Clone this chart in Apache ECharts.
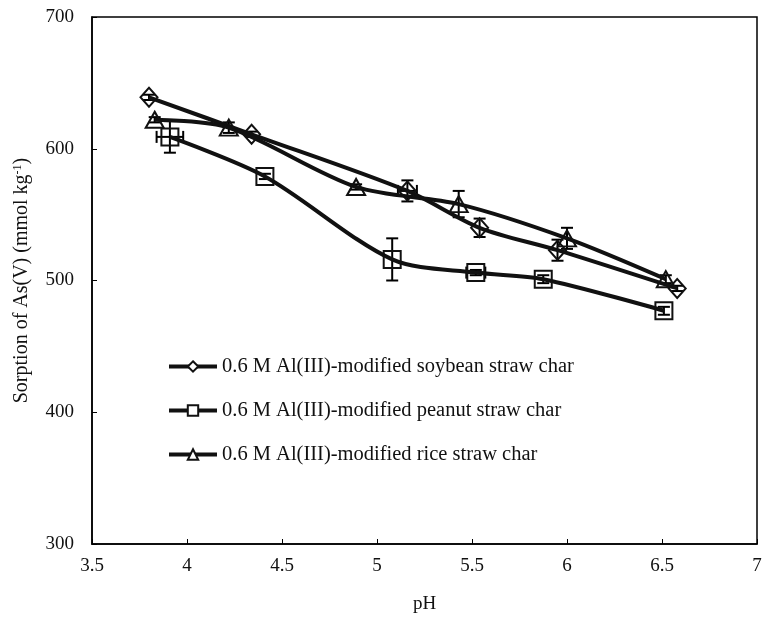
<!doctype html>
<html>
    <head>
        <meta charset="UTF-8">
        <title>As(V) sorption vs pH</title>
        <script src="https://cdn.jsdelivr.net/npm/echarts@6/dist/echarts.min.js"></script>
        <style>
            html, body { margin: 0; padding: 0; background: #fff; }
        </style>
    </head>
    <body>
        <div id="main" style="width: 775px;height:624px;"></div>
        <script type="text/javascript">
        // data
        var phSoy = [3.80, 4.34, 5.16, 5.54, 5.95, 6.58];
        var soy = [639, 611, 568, 540, 523, 494];
        var soyErr = [2, 2, 8, 7, 8, 2];
        var soyXErr = [0, 0, 0.05, 0, 0, 0];

        var phPeanut = [3.91, 4.41, 5.08, 5.52, 5.875, 6.51];
        var peanut = [609, 579, 516, 506, 501, 477];
        var peanutErr = [12, 2, 16, 2, 3, 3];
        var peanutXErr = [0.07, 0, 0, 0.05, 0, 0];

        var phRice = [3.83, 4.22, 4.89, 5.43, 6.00, 6.52];
        var rice = [622, 616, 571, 558, 532, 501];
        var riceErr = [2, 4, 2, 10, 8, 3];
        var riceXErr = [0, 0, 0, 0, 0, 0];

        var names = [
            '0.6 M Al(III)-modified soybean straw char',
            '0.6 M Al(III)-modified peanut straw char',
            '0.6 M Al(III)-modified rice straw char'
        ];

        var font = 'Liberation Serif';

        function pairs(xs, ys) {
            var out = [];
            for (var i = 0; i < xs.length; i++) out.push([xs[i], ys[i]]);
            return out;
        }
        function errData(xs, ys, ey, ex) {
            var out = [];
            for (var i = 0; i < xs.length; i++) out.push([xs[i], ys[i], ey[i], ex[i]]);
            return out;
        }

        // draws the error bars with caps
        function errRender(params, api) {
            var x = api.value(0), y = api.value(1), ey = api.value(2), ex = api.value(3);
            var st = {stroke: '#000', lineWidth: 2};
            var cap = 6;
            var kids = [];
            if (ey > 0) {
                var a = api.coord([x, y + ey]), b = api.coord([x, y - ey]);
                kids.push({type: 'line', shape: {x1: a[0], y1: a[1], x2: b[0], y2: b[1]}, style: st});
                kids.push({type: 'line', shape: {x1: a[0] - cap, y1: a[1], x2: a[0] + cap, y2: a[1]}, style: st});
                kids.push({type: 'line', shape: {x1: b[0] - cap, y1: b[1], x2: b[0] + cap, y2: b[1]}, style: st});
            }
            if (ex > 0) {
                var l = api.coord([x - ex, y]), r = api.coord([x + ex, y]);
                kids.push({type: 'line', shape: {x1: l[0], y1: l[1], x2: r[0], y2: r[1]}, style: st});
                kids.push({type: 'line', shape: {x1: l[0], y1: l[1] - cap, x2: l[0], y2: l[1] + cap}, style: st});
                kids.push({type: 'line', shape: {x1: r[0], y1: r[1] - cap, x2: r[0], y2: r[1] + cap}, style: st});
            }
            return {type: 'group', children: kids};
        }

        function lineSeries(name, data, symbol, size) {
            return {
                name: name,
                type: 'line',
                smooth: 0.3,
                data: data,
                symbol: symbol,
                symbolSize: size,
                showAllSymbol: true,
                lineStyle: {color: '#111', width: 4},
                itemStyle: {color: 'rgba(255,255,255,0)', borderColor: '#111', borderWidth: 2},
                z: 3
            };
        }

        function errSeries(data) {
            return {
                type: 'custom',
                renderItem: errRender,
                data: data,
                silent: true,
                z: 2
            };
        }

        var myChart = echarts.init(document.getElementById('main'));

        var option = {
            animation: false,
            backgroundColor: '#fff',
            grid: {
                left: 92, right: 18, top: 17, bottom: 80,
                show: true, borderColor: '#000', borderWidth: 1.5
            },
            legend: {
                data: names,
                orient: 'vertical',
                left: 167,
                top: 356,
                padding: 0,
                itemWidth: 48,
                itemHeight: 13,
                itemGap: 23,
                itemStyle: {color: '#fff'},
                lineStyle: {width: 4},
                textStyle: {fontFamily: font, fontSize: 20.5, color: '#111'}
            },
            xAxis: {
                type: 'value',
                min: 3.5,
                max: 7,
                interval: 0.5,
                name: 'pH',
                nameLocation: 'middle',
                nameGap: 51,
                nameTextStyle: {fontFamily: font, fontSize: 19, color: '#111'},
                axisLine: {lineStyle: {color: '#000', width: 1.5}},
                axisTick: {inside: true, length: 5, lineStyle: {color: '#000'}},
                axisLabel: {fontFamily: font, fontSize: 19, color: '#111', margin: 13},
                splitLine: {show: false}
            },
            yAxis: {
                type: 'value',
                min: 300,
                max: 700,
                interval: 100,
                name: 'Sorption of As(V) (mmol kg{sup|-1})',
                nameLocation: 'middle',
                nameGap: 60,
                nameTextStyle: {
                    fontFamily: font, fontSize: 20, color: '#111',
                    rich: {sup: {fontFamily: font, fontSize: 12, color: '#111', verticalAlign: 'top', lineHeight: 20}}
                },
                axisLine: {lineStyle: {color: '#000', width: 1.5}},
                axisTick: {inside: true, length: 5, lineStyle: {color: '#000'}},
                axisLabel: {fontFamily: font, fontSize: 19, color: '#111', margin: 18},
                splitLine: {show: false}
            },
            series: [
                lineSeries(names[0], pairs(phSoy, soy), 'diamond', [17, 19]),
                lineSeries(names[1], pairs(phPeanut, peanut), 'rect', [17, 17]),
                lineSeries(names[2], pairs(phRice, rice), 'triangle', [18, 16]),
                errSeries(errData(phSoy, soy, soyErr, soyXErr)),
                errSeries(errData(phPeanut, peanut, peanutErr, peanutXErr)),
                errSeries(errData(phRice, rice, riceErr, riceXErr))
            ]
        };

        myChart.setOption(option);
        </script>
    </body>
</html>
